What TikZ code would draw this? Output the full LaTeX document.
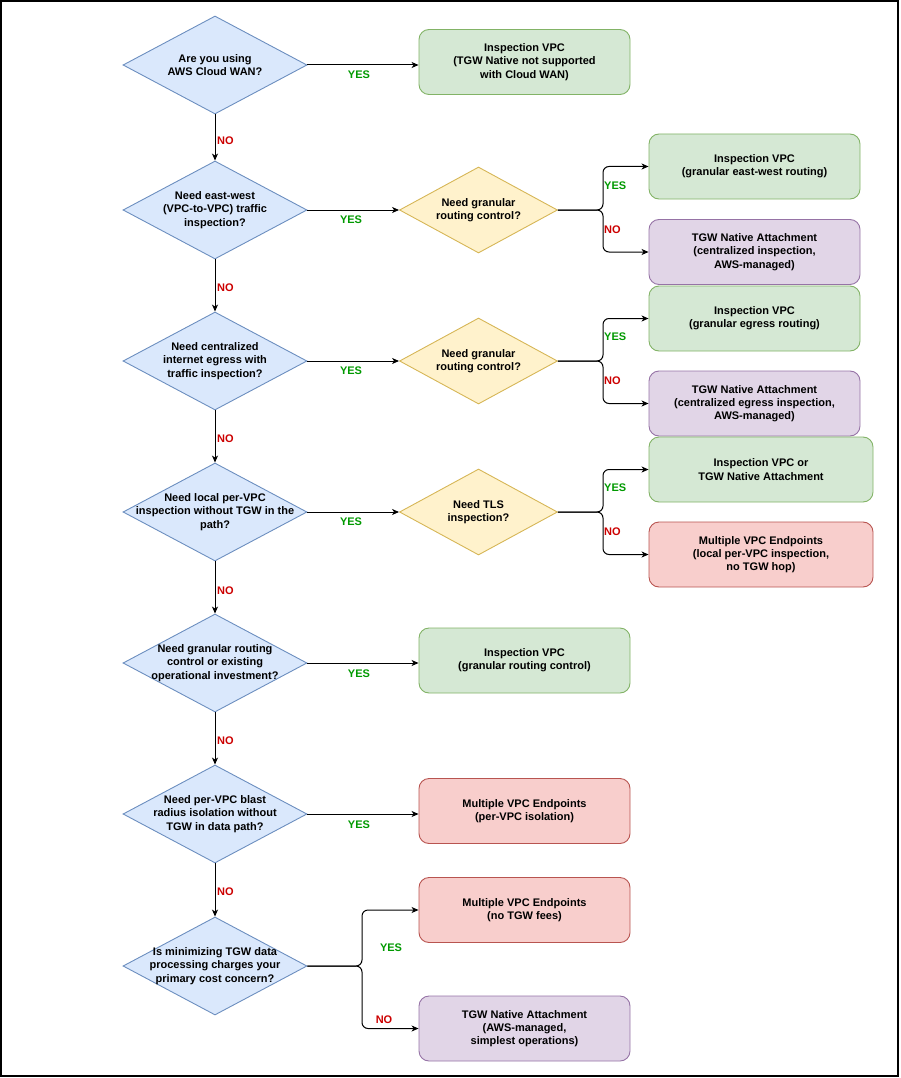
\documentclass[tikz,border=0pt]{standalone}
\usepackage{fontspec}
\setmainfont{Liberation Sans}
\usetikzlibrary{shapes.geometric,arrows.meta}
\definecolor{bluF}{HTML}{DAE8FC}\definecolor{bluS}{HTML}{6C8EBF}
\definecolor{yelF}{HTML}{FFF2CC}\definecolor{yelS}{HTML}{D6B656}
\definecolor{grnF}{HTML}{D5E8D4}\definecolor{grnS}{HTML}{82B366}
\definecolor{purF}{HTML}{E1D5E7}\definecolor{purS}{HTML}{9673A6}
\definecolor{redF}{HTML}{F8CECC}\definecolor{redS}{HTML}{B85450}
\definecolor{yesC}{HTML}{009900}\definecolor{noC}{HTML}{CC0000}
\begin{document}
\begin{tikzpicture}[x=1pt,y=-1pt,
  fnt/.style={font=\fontsize{11}{13.3}\selectfont\bfseries},
  dia/.style={diamond, draw=bluS, fill=bluF, line width=0.9pt, inner sep=0pt, minimum width=184pt, minimum height=98pt},
  ydia/.style={diamond, draw=yelS, fill=yelF, line width=0.9pt, inner sep=0pt, minimum width=158pt, minimum height=86pt},
  txt/.style={fnt, align=center, inner sep=0pt},
  box/.style={fnt, rectangle, rounded corners=10pt, line width=0.9pt, minimum width=211pt, minimum height=65pt, inner sep=0pt, align=center},
  gbox/.style={box, draw=grnS, fill=grnF},
  pbox/.style={box, draw=purS, fill=purF},
  rbox/.style={box, draw=redS, fill=redF},
  arr/.style={draw=black, line width=1pt, -{Stealth[length=7pt,width=6pt,inset=2pt]}},
  brn/.style={arr, rounded corners=6pt},
  yes/.style={fnt, text=yesC, inner sep=0pt},
  no/.style={fnt, text=noC, inner sep=0pt}
]
\useasboundingbox (0,0) rectangle (900,1078);
\draw[line width=2pt] (1,1) rectangle (898,1076);

% main diamonds
\node[dia] (d1) at (215,65) {};
\node[txt] (d1t) at (d1) {Are you using\\AWS Cloud WAN?};
\node[dia] (d2) at (215,210) {};
\node[txt] (d2t) at (d2) {Need east-west\\(VPC-to-VPC) traffic\\inspection?};
\node[dia] (d3) at (215,361) {};
\node[txt] (d3t) at (d3) {Need centralized\\internet egress with\\traffic inspection?};
\node[dia] (d4) at (215,512) {};
\node[txt] (d4t) at (d4) {Need local per-VPC\\inspection without TGW in the\\path?};
\node[dia] (d5) at (215,663) {};
\node[txt] (d5t) at (d5) {Need granular routing\\control or existing\\operational investment?};
\node[dia] (d6) at (215,814) {};
\node[txt] (d6t) at (d6) {Need per-VPC blast\\radius isolation without\\TGW in data path?};
\node[dia] (d7) at (215,966) {};
\node[txt] (d7t) at (d7) {Is minimizing TGW data\\processing charges your\\primary cost concern?};

% yellow diamonds
\node[ydia] (y1) at (478.5,210) {};
\node[txt] (y1t) at (y1) {Need granular\\routing control?};
\node[ydia] (y2) at (478.5,361) {};
\node[txt] (y2t) at (y2) {Need granular\\routing control?};
\node[ydia] (y3) at (478.5,512) {};
\node[txt] (y3t) at (y3) {Need TLS\\inspection?};

% boxes
\node[gbox] (b1) at (524.5,62) {Inspection VPC\\(TGW Native not supported\\with Cloud WAN)};
\node[gbox] (b2) at (754.5,166.5) {Inspection VPC\\(granular east-west routing)};
\node[pbox] (b3) at (754.5,252) {TGW Native Attachment\\(centralized inspection,\\AWS-managed)};
\node[gbox] (b4) at (754.5,318.5) {Inspection VPC\\(granular egress routing)};
\node[pbox] (b5) at (754.5,403.5) {TGW Native Attachment\\(centralized egress inspection,\\AWS-managed)};
\node[gbox, minimum width=224pt] (b6) at (761,469.5) {Inspection VPC or\\TGW Native Attachment};
\node[rbox, minimum width=224pt] (b7) at (761,554.5) {Multiple VPC Endpoints\\(local per-VPC inspection,\\no TGW hop)};
\node[gbox] (b8) at (524.5,660.5) {Inspection VPC\\(granular routing control)};
\node[rbox] (b9) at (524.5,811) {Multiple VPC Endpoints\\(per-VPC isolation)};
\node[rbox] (b10) at (524.5,910) {Multiple VPC Endpoints\\(no TGW fees)};
\node[pbox] (b11) at (524.5,1028.5) {TGW Native Attachment\\(AWS-managed,\\simplest operations)};

% junctions
\coordinate (j1) at (603,210);
\coordinate (j2) at (603,361);
\coordinate (j3) at (603,512);
\coordinate (j4) at (362,966);

% vertical NO arrows
\draw[arr] (d1.south) -- (d2.north);
\draw[arr] (d2.south) -- (d3.north);
\draw[arr] (d3.south) -- (d4.north);
\draw[arr] (d4.south) -- (d5.north);
\draw[arr] (d5.south) -- (d6.north);
\draw[arr] (d6.south) -- (d7.north);
\node[no, anchor=west] (n1) at (217,141) {NO};
\node[no, anchor=west] (n2) at (217,288) {NO};
\node[no, anchor=west] (n3) at (217,439) {NO};
\node[no, anchor=west] (n4) at (217,591) {NO};
\node[no, anchor=west] (n5) at (217,741) {NO};
\node[no, anchor=west] (n6) at (217,892) {NO};

% horizontal YES arrows
\draw[arr] (d1.east) -- (d1.east -| b1.west);
\draw[arr] (d2.east) -- (y1.west);
\draw[arr] (d3.east) -- (y2.west);
\draw[arr] (d4.east) -- (y3.west);
\draw[arr] (d5.east) -- (d5.east -| b8.west);
\draw[arr] (d6.east) -- (d6.east -| b9.west);
\node[yes] (s1) at (359,75) {YES};
\node[yes] (s2) at (351,220) {YES};
\node[yes] (s3) at (351,371) {YES};
\node[yes] (s4) at (351,522) {YES};
\node[yes] (s5) at (359,674) {YES};
\node[yes] (s6) at (359,825) {YES};

% branches
\draw[brn] (y1.east) -- (j1) |- (b2.west);
\draw[brn] (y1.east) -- (j1) |- (b3.west);
\draw[brn] (y2.east) -- (j2) |- (b4.west);
\draw[brn] (y2.east) -- (j2) |- (b5.west);
\draw[brn] (y3.east) -- (j3) |- (b6.west);
\draw[brn] (y3.east) -- (j3) |- (b7.west);
\draw[brn] (d7.east) -- (j4) |- (b10.west);
\draw[brn] (d7.east) -- (j4) |- (b11.west);
\node[yes, anchor=west] (s7) at (604,186) {YES};
\node[no, anchor=west] (n7) at (604,230) {NO};
\node[yes, anchor=west] (s8) at (604,337) {YES};
\node[no, anchor=west] (n8) at (604,381) {NO};
\node[yes, anchor=west] (s9) at (604,488) {YES};
\node[no, anchor=west] (n9) at (604,532) {NO};
\node[yes] (s10) at (391,948) {YES};
\node[no] (n10) at (384,1020) {NO};
\end{tikzpicture}
\end{document}
